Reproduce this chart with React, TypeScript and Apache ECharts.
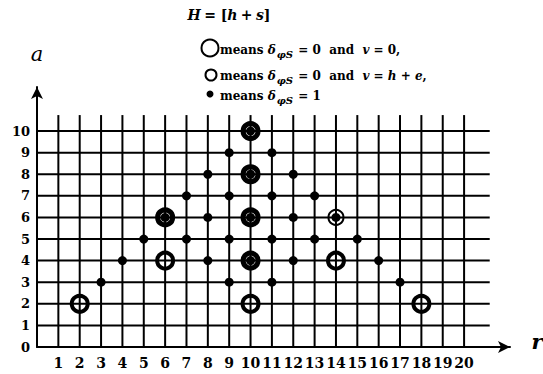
import React, { useEffect, useRef } from "react";
import * as echarts from "echarts";

// ---- data ----
const gridRows = [1, 2, 3, 4, 5, 6, 7, 8, 9, 10];
const gridCols = [1, 2, 3, 4, 5, 6, 7, 8, 9, 10, 11, 12, 13, 14, 15, 16, 17, 18, 19, 20];
const gridRightEnd = 21.2; // horizontal lines end (r)
const gridTopEnd = 10.74; // vertical lines end (a)

// delta = 1 points (dots)
const dotPoints: [number, number][] = [
  [10, 10],
  [9, 9], [11, 9],
  [8, 8], [10, 8], [12, 8],
  [7, 7], [9, 7], [11, 7], [13, 7],
  [6, 6], [8, 6], [10, 6], [12, 6], [14, 6],
  [5, 5], [7, 5], [9, 5], [11, 5], [13, 5], [15, 5],
  [4, 4], [8, 4], [10, 4], [12, 4], [16, 4],
  [3, 3], [9, 3], [11, 3], [17, 3],
];
// large thick open circles
const openRings: [number, number][] = [[2, 2], [6, 4], [10, 2], [14, 4], [18, 2]];
// thick circles around dots
const heavyRings: [number, number][] = [[6, 6], [10, 4], [10, 6], [10, 8], [10, 10]];
// thin circle around dot
const thinRings: [number, number][] = [[14, 6]];

const xLabelMin = 1;
const xLabelMax = 20;
const yLabelMin = 0;
const yLabelMax = 10;

const FONT = "DejaVu Serif";

export default function App() {
  const ref = useRef<HTMLDivElement>(null);
  useEffect(() => {
    if (!ref.current) return;
    const chart = echarts.init(ref.current, undefined, { renderer: "svg" });
    const lineStyle = { color: "#000", width: 2 };
    const gridSeries: any[] = [];
    gridRows.forEach((a) => {
      gridSeries.push({
        type: "line",
        data: [[0, a], [gridRightEnd, a]],
        symbol: "none",
        silent: true,
        lineStyle,
        z: 1,
      });
    });
    gridCols.forEach((r) => {
      gridSeries.push({
        type: "line",
        data: [[r, 0], [r, gridTopEnd]],
        symbol: "none",
        silent: true,
        lineStyle,
        z: 1,
      });
    });

    const tBase = { fontFamily: FONT, fontWeight: "bold", fontSize: 12, color: "#000" };
    const rich = {
      t: { ...tBase },
      it: { ...tBase, fontStyle: "italic" },
      sub: { ...tBase, fontStyle: "italic", fontSize: 10, padding: [8, 1, 0, 1] },
    };

    chart.setOption({
      animation: false,
      backgroundColor: "#fff",
      grid: { left: 37, right: 33, top: 87, bottom: 27 },
      xAxis: {
        type: "value",
        min: 0,
        max: 22.15,
        interval: 1,
        axisLine: {
          show: true,
          lineStyle: { color: "#000", width: 2 },
          symbol: ["none", "arrow"],
          symbolSize: [9, 12],
        },
        axisTick: { show: false },
        splitLine: { show: false },
        axisLabel: {
          color: "#000",
          fontFamily: FONT,
          fontWeight: "bold",
          fontSize: 14,
          margin: 9,
          showMaxLabel: false,
          formatter: (v: number) => (v >= xLabelMin && v <= xLabelMax && Number.isInteger(v) ? String(v) : ""),
        },
      },
      yAxis: {
        type: "value",
        min: 0,
        max: 12.04,
        interval: 1,
        axisLine: {
          show: true,
          lineStyle: { color: "#000", width: 2 },
          symbol: ["none", "arrow"],
          symbolSize: [9, 12],
        },
        axisTick: { show: false },
        splitLine: { show: false },
        axisLabel: {
          color: "#000",
          fontFamily: FONT,
          fontWeight: "bold",
          fontSize: 13,
          margin: 7,
          showMaxLabel: false,
          formatter: (v: number) => (v >= yLabelMin && v <= yLabelMax && Number.isInteger(v) ? String(v) : ""),
        },
      },
      series: [
        ...gridSeries,
        {
          type: "scatter",
          data: openRings,
          symbol: "circle",
          symbolSize: 16,
          itemStyle: { color: "rgba(0,0,0,0)", borderColor: "#000", borderWidth: 4, opacity: 1 },
          z: 3,
        },
        {
          type: "scatter",
          data: heavyRings,
          symbol: "circle",
          symbolSize: 15,
          itemStyle: { color: "rgba(0,0,0,0)", borderColor: "#000", borderWidth: 5, opacity: 1 },
          z: 3,
        },
        {
          type: "scatter",
          data: thinRings,
          symbol: "circle",
          symbolSize: 15,
          itemStyle: { color: "rgba(0,0,0,0)", borderColor: "#000", borderWidth: 2, opacity: 1 },
          z: 3,
        },
        {
          type: "scatter",
          data: dotPoints,
          symbol: "circle",
          symbolSize: 9,
          itemStyle: { color: "#000", opacity: 1 },
          z: 4,
        },
      ],
      graphic: [
        {
          type: "text",
          x: 229,
          y: 15,
          style: {
            text: "{it|H} {t|= [}{it|h} {t|+} {it|s}{t|]}",
            rich: { ...rich, t: { ...tBase, fontSize: 14 }, it: { ...tBase, fontSize: 14, fontStyle: "italic" } },
            align: "center",
            verticalAlign: "middle",
          },
        },
        {
          type: "circle",
          shape: { cx: 210, cy: 48, r: 8.5 },
          style: { fill: "none", stroke: "#000", lineWidth: 2 },
        },
        {
          type: "circle",
          shape: { cx: 211, cy: 75, r: 5.5 },
          style: { fill: "none", stroke: "#000", lineWidth: 2 },
        },
        {
          type: "circle",
          shape: { cx: 210, cy: 94, r: 3.5 },
          style: { fill: "#000" },
        },
        {
          type: "text",
          x: 220,
          y: 50,
          style: {
            text: "{t|means }{it|δ}{sub|φS}{t| = 0  and  }{it|v}{t| = 0,}",
            rich,
            verticalAlign: "middle",
          },
        },
        {
          type: "text",
          x: 220,
          y: 76,
          style: {
            text: "{t|means }{it|δ}{sub|φS}{t| = 0  and  }{it|v}{t| = }{it|h}{t| + }{it|e}{t|,}",
            rich,
            verticalAlign: "middle",
          },
        },
        {
          type: "text",
          x: 220,
          y: 96,
          style: {
            text: "{t|means }{it|δ}{sub|φS}{t| = 1}",
            rich,
            verticalAlign: "middle",
          },
        },
        {
          type: "text",
          x: 37,
          y: 54,
          style: {
            text: "a",
            fontFamily: FONT,
            fontStyle: "italic",
            fontSize: 21,
            fill: "#000",
            align: "center",
            verticalAlign: "middle",
          },
        },
        {
          type: "text",
          x: 537,
          y: 341,
          style: {
            text: "r",
            fontFamily: FONT,
            fontStyle: "italic",
            fontWeight: "bold",
            fontSize: 21,
            fill: "#000",
            align: "center",
            verticalAlign: "middle",
          },
        },
      ],
    });
    return () => chart.dispose();
  }, []);
  return (
    <div
      ref={ref}
      style={{ position: "absolute", left: 0, top: 0, width: 543, height: 374 }}
    />
  );
}
